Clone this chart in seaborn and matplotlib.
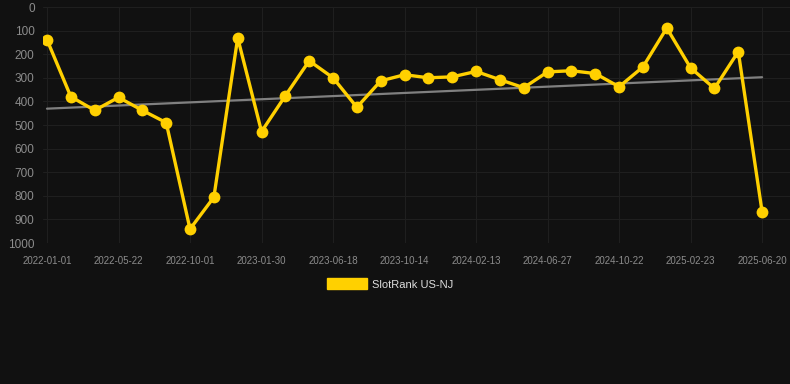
import numpy as np
import pandas as pd
import matplotlib
matplotlib.use("Agg")
import matplotlib.pyplot as plt
import matplotlib.patches as mpatches
import seaborn as sns

tick_labels = ["2022-01-01", "2022-05-22", "2022-10-01", "2023-01-30", "2023-06-18",
               "2023-10-14", "2024-02-13", "2024-06-27", "2024-10-22", "2025-02-23",
               "2025-06-20"]
ranks = [139, 380, 438, 383, 438, 490, 941, 806, 131, 528, 376, 228, 300, 425, 313,
         287, 300, 296, 273, 308, 342, 275, 270, 282, 338, 254, 89, 258, 345, 189, 868]
series_name = "SlotRank US-NJ"

BG = "#111111"
GRID = "#1f1f1f"
TICK = "#8c8c8c"
YELLOW = "#FFD000"

sns.set_theme(style="dark")
plt.rcParams["font.family"] = ["Liberation Sans", "DejaVu Sans"]

df = pd.DataFrame({"idx": np.arange(len(ranks)), "rank": ranks})

fig = plt.figure(figsize=(7.9, 3.84), dpi=100, facecolor=BG)
ax = fig.add_axes([43 / 790, (384 - 243) / 384, (790 - 43) / 790, (243 - 7) / 384])
ax.set_facecolor(BG)

# trend line (linear regression)
coef = np.polyfit(df["idx"], df["rank"], 1)
trend = np.polyval(coef, df["idx"])
ax.plot(df["idx"], trend, color="#808080", lw=1.6, zorder=2)

sns.lineplot(data=df, x="idx", y="rank", ax=ax, color=YELLOW, lw=2.4,
             marker="o", markersize=8.5, markeredgewidth=0, zorder=3)

ax.set_ylim(1000, 0)
ax.set_xlim(-0.168, 31.17)
ax.set_yticks(np.arange(0, 1001, 100))
ax.set_xticks(np.arange(0, len(ranks), 3))
ax.set_xticklabels(tick_labels)
ax.tick_params(axis="y", labelsize=8.5, colors=TICK, length=0, pad=6)
ax.tick_params(axis="x", labelsize=7, colors=TICK, length=0, pad=9)
ax.grid(True, color=GRID, lw=0.8)
ax.set_xlabel("")
ax.set_ylabel("")
for s in ax.spines.values():
    s.set_visible(False)

handle = mpatches.Patch(color=YELLOW, label=series_name)
leg = fig.legend(handles=[handle], loc="center", bbox_to_anchor=(390 / 790, 1 - 284 / 384),
                 frameon=False, fontsize=8, handlelength=3.6, handleheight=1.1,
                 handletextpad=0.5, labelcolor="#dddddd")

fig.savefig("out.png", dpi=100, facecolor=BG)
